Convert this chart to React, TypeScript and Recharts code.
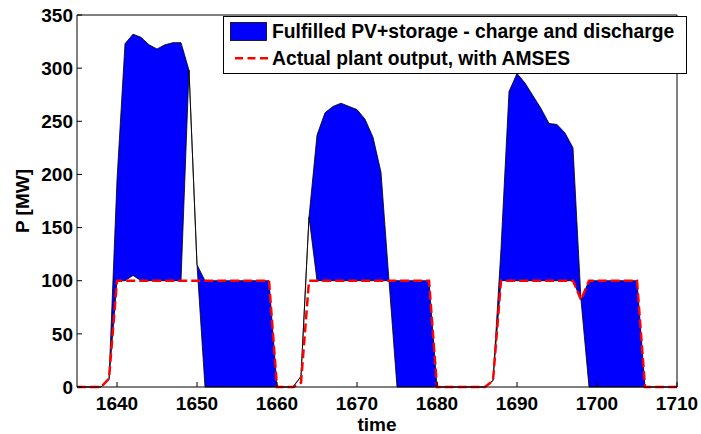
import { ComposedChart, Area, Line, XAxis, YAxis, Legend, Label } from 'recharts';

// time axis (hours)
const TIME = [
  1635, 1636, 1637, 1638, 1639, 1640, 1641, 1642, 1643, 1644,
  1645, 1646, 1647, 1648, 1649, 1650, 1651, 1652, 1653, 1654,
  1655, 1656, 1657, 1658, 1659, 1660, 1661, 1662, 1663, 1664,
  1665, 1666, 1667, 1668, 1669, 1670, 1671, 1672, 1673, 1674,
  1675, 1676, 1677, 1678, 1679, 1680, 1681, 1682, 1683, 1684,
  1685, 1686, 1687, 1688, 1689, 1690, 1691, 1692, 1693, 1694,
  1695, 1696, 1697, 1698, 1699, 1700, 1701, 1702, 1703, 1704,
  1705, 1706, 1707, 1708, 1709, 1710,
];

// lower edge of the blue fill (MW)
const FILL_LOW = [
  0, 0, 0, 0, 7, 100, 100, 105, 100, 100,
  100, 100, 100, 100, 298, 115, 0, 0, 0, 0,
  0, 0, 0, 0, 0, 0, 0, 0, 10, 160,
  100, 100, 100, 100, 100, 100, 100, 100, 100, 100,
  0, 0, 0, 0, 0, 0, 0, 0, 0, 0,
  0, 0, 6, 100, 100, 100, 100, 100, 100, 100,
  100, 100, 100, 82, 0, 0, 0, 0, 0, 0,
  0, 0, 0, 0, 0, 0,
];

// upper edge of the blue fill (MW)
const FILL_HIGH = [
  0, 0, 0, 0, 7, 195, 323, 332, 329, 322,
  318, 322, 324, 324, 298, 115, 100, 100, 100, 100,
  100, 100, 100, 100, 100, 0, 0, 0, 10, 160,
  237, 258, 264, 267, 264, 261, 252, 235, 202, 100,
  100, 100, 100, 100, 100, 0, 0, 0, 0, 0,
  0, 0, 6, 130, 278, 295, 286, 274, 262, 248,
  247, 239, 225, 82, 100, 100, 100, 100, 100, 100,
  100, 0, 0, 0, 0, 0,
];

// actual plant output with AMSES (MW)
const PLANT_OUTPUT = [
  0, 0, 0, 0, 8, 100, 100, 100, 100, 100,
  100, 100, 100, 100, 100, 100, 100, 100, 100, 100,
  100, 100, 100, 100, 100, 0, 0, 0, 4, 100,
  100, 100, 100, 100, 100, 100, 100, 100, 100, 100,
  100, 100, 100, 100, 100, 0, 0, 0, 0, 0,
  0, 0, 6, 100, 100, 100, 100, 100, 100, 100,
  100, 100, 100, 82, 100, 100, 100, 100, 100, 100,
  100, 0, 0, 0, 0, 0,
];

const X_TICKS = [1640, 1650, 1660, 1670, 1680, 1690, 1700, 1710];
const Y_TICKS = [0, 50, 100, 150, 200, 250, 300, 350];

const FONT = '"Liberation Sans", Arial, Helvetica, sans-serif';
const tickStyle = { fill: '#000', fontSize: 19, fontWeight: 'bold', fontFamily: FONT };

const data = TIME.map((t, i) => ({
  t,
  band: [FILL_LOW[i], FILL_HIGH[i]],
  out: PLANT_OUTPUT[i],
}));

function LegendBox() {
  const text = { fontFamily: FONT, fontSize: 19.3, fontWeight: 'bold', fill: '#000' };
  return (
    <svg width={466} height={60} style={{ display: 'block' }}>
      <rect x={1.5} y={1.5} width={463} height={57} fill="#fff" stroke="#000" />
      <rect x={8.5} y={7.5} width={36} height={18} fill="#0000ff" stroke="#000" strokeWidth={0.8} />
      <line x1={13} x2={46} y1={43.3} y2={43.3} stroke="#ff0000" strokeWidth={2.5} strokeDasharray="8 4.5" />
      <text x={50} y={23.3} {...text}>Fulfilled PV+storage - charge and discharge</text>
      <text x={50} y={50} {...text}>Actual plant output, with AMSES</text>
    </svg>
  );
}

export default function App() {
  return (
    <div style={{ position: 'absolute', left: 0, top: 0, width: 701, height: 434, background: '#fff' }}>
      <ComposedChart width={701} height={434} data={data} margin={{ top: 14, right: 23, bottom: 0, left: 0 }}>
        <XAxis
          xAxisId="bottom"
          dataKey="t"
          type="number"
          domain={[1635, 1710]}
          ticks={X_TICKS}
          interval={0}
          allowDataOverflow
          height={47}
          tickSize={-5}
          tickMargin={14.5}
          stroke="#000"
          tick={tickStyle}
        >
          <Label
            content={({ viewBox }: any) => {
              const vb = viewBox || { x: 77, y: 387, width: 600, height: 47 };
              return (
                <text
                  x={vb.x + vb.width / 2}
                  y={vb.y + vb.height - 3}
                  textAnchor="middle"
                  fontFamily={FONT}
                  fontSize={19}
                  fontWeight="bold"
                  fill="#000"
                >
                  time
                </text>
              );
            }}
          />
        </XAxis>
        <XAxis
          xAxisId="top"
          orientation="top"
          dataKey="t"
          type="number"
          domain={[1635, 1710]}
          ticks={X_TICKS}
          interval={0}
          allowDataOverflow
          height={1}
          tickSize={-5}
          stroke="#000"
          tick={false}
        />
        <YAxis
          yAxisId="left"
          type="number"
          domain={[0, 350]}
          ticks={Y_TICKS}
          interval={0}
          width={77}
          tickSize={-5}
          tickMargin={9}
          stroke="#000"
          tick={tickStyle}
        >
          <Label
            content={({ viewBox }: any) => {
              const vb = viewBox || { x: 0, y: 15, width: 77, height: 372 };
              const cx = vb.x + 22;
              const cy = vb.y + vb.height / 2;
              return (
                <text
                  x={cx}
                  y={cy}
                  transform={`rotate(-90 ${cx} ${cy})`}
                  textAnchor="middle"
                  dominantBaseline="central"
                  fontFamily={FONT}
                  fontSize={19}
                  fontWeight="bold"
                  fill="#000"
                >
                  P [MW]
                </text>
              );
            }}
          />
        </YAxis>
        <YAxis
          yAxisId="right"
          orientation="right"
          type="number"
          domain={[0, 350]}
          ticks={Y_TICKS}
          interval={0}
          width={1}
          tickSize={-5}
          stroke="#000"
          tick={false}
        />
        <Area
          xAxisId="bottom"
          yAxisId="left"
          dataKey="band"
          type="linear"
          fill="#0000ff"
          fillOpacity={1}
          stroke="#000"
          strokeWidth={0.8}
          dot={false}
          activeDot={false}
          isAnimationActive={false}
        />
        <Line
          xAxisId="bottom"
          yAxisId="left"
          dataKey="out"
          type="linear"
          stroke="#ff0000"
          strokeWidth={2.5}
          strokeDasharray="9 4"
          dot={false}
          activeDot={false}
          isAnimationActive={false}
        />
        <Legend
          layout="horizontal"
          verticalAlign="middle"
          align="center"
          content={() => <LegendBox />}
          wrapperStyle={{ left: 222, top: 15, width: 466, height: 60, lineHeight: 0 }}
        />
      </ComposedChart>
    </div>
  );
}
